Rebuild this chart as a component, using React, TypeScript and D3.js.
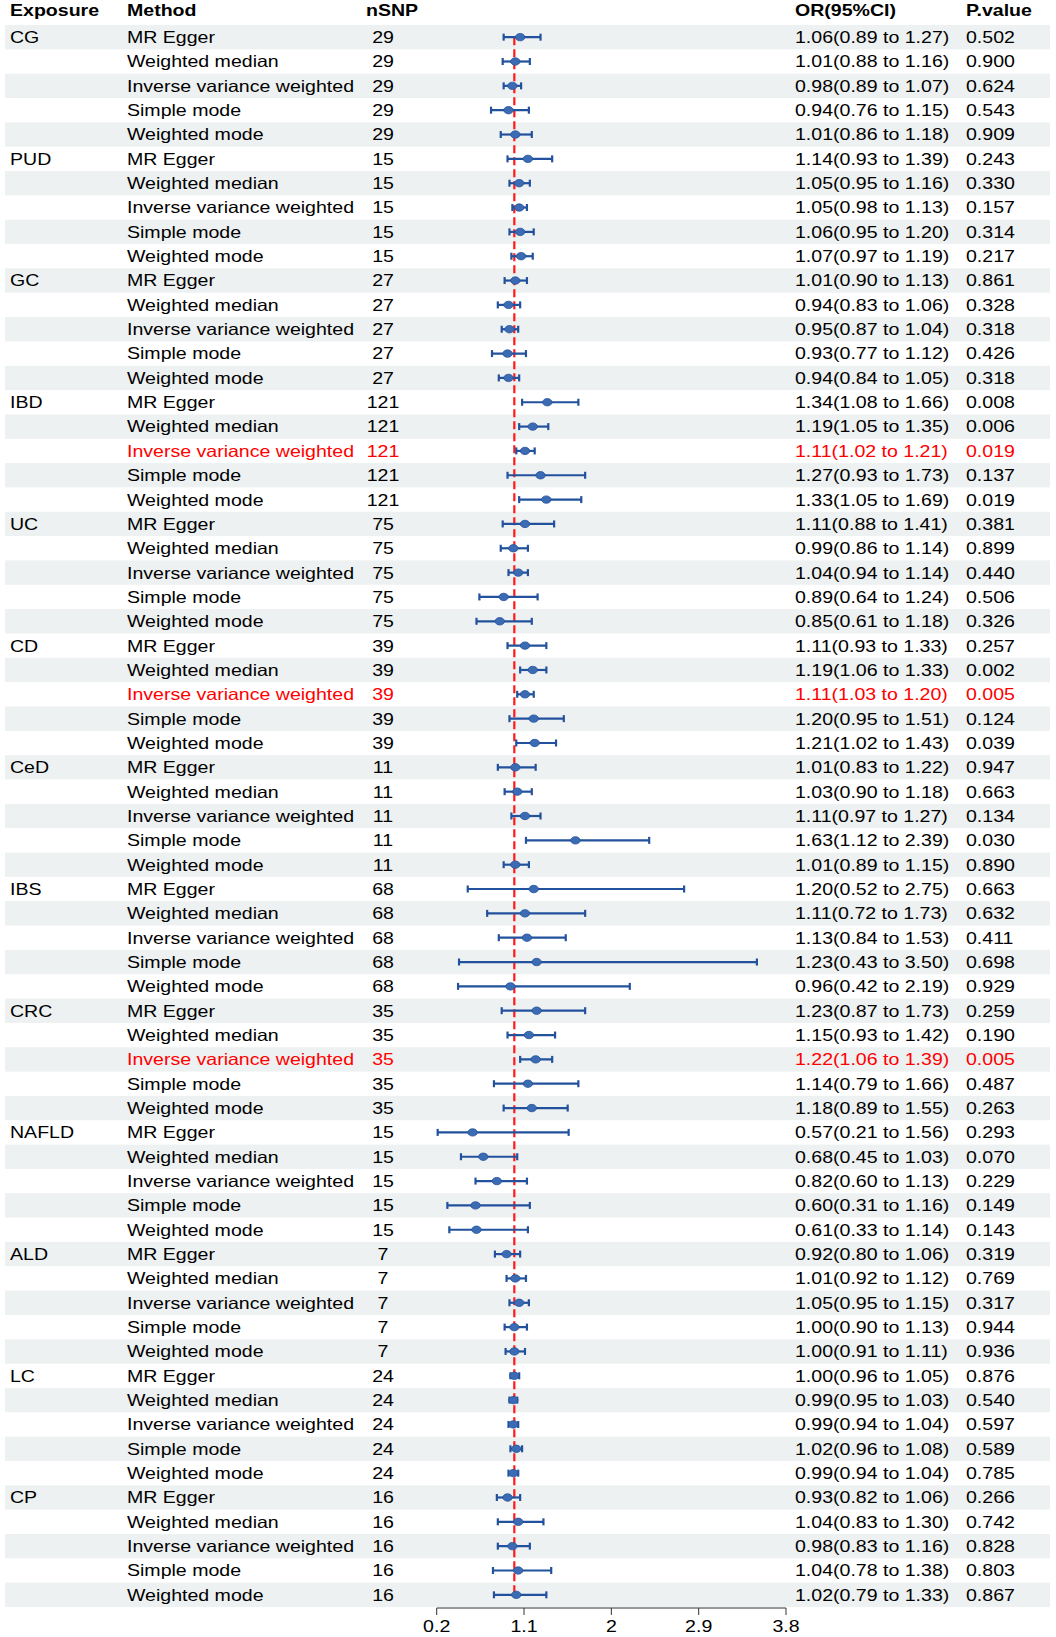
import React from "react";
import * as d3 from "d3";

const exposures = ["CG", "PUD", "GC", "IBD", "UC", "CD", "CeD", "IBS", "CRC", "NAFLD", "ALD", "LC", "CP"];
const nSNP = [29, 15, 27, 121, 75, 39, 11, 68, 35, 15, 7, 24, 16];
const methods = ["MR Egger", "Weighted median", "Inverse variance weighted", "Simple mode", "Weighted mode"];

const orValues = [
  1.06, 1.01, 0.98, 0.94, 1.01,
  1.14, 1.05, 1.05, 1.06, 1.07,
  1.01, 0.94, 0.95, 0.93, 0.94,
  1.34, 1.19, 1.11, 1.27, 1.33,
  1.11, 0.99, 1.04, 0.89, 0.85,
  1.11, 1.19, 1.11, 1.20, 1.21,
  1.01, 1.03, 1.11, 1.63, 1.01,
  1.20, 1.11, 1.13, 1.23, 0.96,
  1.23, 1.15, 1.22, 1.14, 1.18,
  0.57, 0.68, 0.82, 0.60, 0.61,
  0.92, 1.01, 1.05, 1.00, 1.00,
  1.00, 0.99, 0.99, 1.02, 0.99,
  0.93, 1.04, 0.98, 1.04, 1.02,
];
const lowerCI = [
  0.89, 0.88, 0.89, 0.76, 0.86,
  0.93, 0.95, 0.98, 0.95, 0.97,
  0.90, 0.83, 0.87, 0.77, 0.84,
  1.08, 1.05, 1.02, 0.93, 1.05,
  0.88, 0.86, 0.94, 0.64, 0.61,
  0.93, 1.06, 1.03, 0.95, 1.02,
  0.83, 0.90, 0.97, 1.12, 0.89,
  0.52, 0.72, 0.84, 0.43, 0.42,
  0.87, 0.93, 1.06, 0.79, 0.89,
  0.21, 0.45, 0.60, 0.31, 0.33,
  0.80, 0.92, 0.95, 0.90, 0.91,
  0.96, 0.95, 0.94, 0.96, 0.94,
  0.82, 0.83, 0.83, 0.78, 0.79,
];
const upperCI = [
  1.27, 1.16, 1.07, 1.15, 1.18,
  1.39, 1.16, 1.13, 1.20, 1.19,
  1.13, 1.06, 1.04, 1.12, 1.05,
  1.66, 1.35, 1.21, 1.73, 1.69,
  1.41, 1.14, 1.14, 1.24, 1.18,
  1.33, 1.33, 1.20, 1.51, 1.43,
  1.22, 1.18, 1.27, 2.39, 1.15,
  2.75, 1.73, 1.53, 3.50, 2.19,
  1.73, 1.42, 1.39, 1.66, 1.55,
  1.56, 1.03, 1.13, 1.16, 1.14,
  1.06, 1.12, 1.15, 1.13, 1.11,
  1.05, 1.03, 1.04, 1.08, 1.04,
  1.06, 1.30, 1.16, 1.38, 1.33,
];
const pValues = [
  "0.502", "0.900", "0.624", "0.543", "0.909",
  "0.243", "0.330", "0.157", "0.314", "0.217",
  "0.861", "0.328", "0.318", "0.426", "0.318",
  "0.008", "0.006", "0.019", "0.137", "0.019",
  "0.381", "0.899", "0.440", "0.506", "0.326",
  "0.257", "0.002", "0.005", "0.124", "0.039",
  "0.947", "0.663", "0.134", "0.030", "0.890",
  "0.663", "0.632", "0.411", "0.698", "0.929",
  "0.259", "0.190", "0.005", "0.487", "0.263",
  "0.293", "0.070", "0.229", "0.149", "0.143",
  "0.319", "0.769", "0.317", "0.944", "0.936",
  "0.876", "0.540", "0.597", "0.589", "0.785",
  "0.266", "0.742", "0.828", "0.803", "0.867",
];
const highlightedRows = [17, 27, 42];
const tickValues = [0.2, 1.1, 2, 2.9, 3.8];

const W = 1056;
const H = 1637;
const FONT = "'Liberation Sans', Arial, sans-serif";
const SX = 1.185;

function T(props: {
  x: number; y: number; children: React.ReactNode; anchor?: string; bold?: boolean; color?: string; size?: number;
}) {
  const { x, y, children, anchor = "start", bold = false, color = "#000", size = 16.5 } = props;
  return (
    <text
      transform={`translate(${x},${y}) scale(${SX},1)`}
      textAnchor={anchor}
      fontFamily={FONT}
      fontSize={size}
      fontWeight={bold ? "bold" : "normal"}
      fill={color}
    >
      {children}
    </text>
  );
}

export default function App() {
  const rows = exposures.flatMap((e, ei) =>
    methods.map((m, mi) => {
      const i = ei * methods.length + mi;
      return {
        i,
        exposure: mi === 0 ? e : "",
        method: m,
        n: nSNP[ei],
        or: orValues[i],
        lo: lowerCI[i],
        hi: upperCI[i],
        p: pValues[i],
        red: highlightedRows.includes(i),
      };
    })
  );

  const y = d3.scaleBand<number>().domain(rows.map((r) => r.i)).range([25, 1607]).paddingInner(0).paddingOuter(0);
  const bw = y.bandwidth();
  const cy = (i: number) => (y(i) as number) + bw / 2;
  const x = d3.scaleLinear().domain([0.2, 3.8]).range([436.7, 786]);

  const axisY = 1608;
  const lineColor = "#22519d";
  const pointFill = "#3b6cb3";

  return (
    <svg width={W} height={H} style={{ position: "absolute", left: 0, top: 0, background: "#fff" }}>
      <rect x={0} y={0} width={W} height={H} fill="#fff" />
      {rows.map((r) =>
        r.i % 2 === 0 ? (
          <rect key={"b" + r.i} x={5} y={y(r.i) as number} width={1045} height={bw} fill="#eef1f1" />
        ) : null
      )}
      {/* header */}
      <T x={10} y={16} bold>Exposure</T>
      <T x={127} y={16} bold>Method</T>
      <T x={366} y={16} bold>nSNP</T>
      <T x={795} y={16} bold>OR(95%CI)</T>
      <T x={966} y={16} bold>P.value</T>

      {rows.map((r) => {
        const c = r.red ? "#ff0000" : "#000";
        const by = cy(r.i) + 5.9;
        return (
          <g key={"t" + r.i}>
            {r.exposure && <T x={10} y={by}>{r.exposure}</T>}
            <T x={127} y={by} color={c}>{r.method}</T>
            <T x={383} y={by} color={c} anchor="middle">{String(r.n)}</T>
            <T x={795} y={by} color={c}>{`${r.or.toFixed(2)}(${r.lo.toFixed(2)} to ${r.hi.toFixed(2)})`}</T>
            <T x={966} y={by} color={c}>{r.p}</T>
          </g>
        );
      })}

      {/* reference line */}
      <line
        x1={x(1)}
        x2={x(1)}
        y1={cy(0)}
        y2={cy(rows.length - 1)}
        stroke="#ff1a1a"
        strokeWidth={2.2}
        strokeDasharray="8,4"
      />

      {/* CIs */}
      {rows.map((r) => {
        const c = cy(r.i);
        return (
          <g key={"ci" + r.i}>
            <line x1={x(r.lo)} x2={x(r.hi)} y1={c} y2={c} stroke={lineColor} strokeWidth={2.2} />
            <line x1={x(r.lo)} x2={x(r.lo)} y1={c - 3.5} y2={c + 3.5} stroke={lineColor} strokeWidth={2.2} />
            <line x1={x(r.hi)} x2={x(r.hi)} y1={c - 3.5} y2={c + 3.5} stroke={lineColor} strokeWidth={2.2} />
            <ellipse cx={x(r.or)} cy={c} rx={4.7} ry={3.7} fill={pointFill} stroke={lineColor} strokeWidth={0.8} />
          </g>
        );
      })}

      {/* axis */}
      <line x1={x(0.2)} x2={x(3.8)} y1={axisY} y2={axisY} stroke="#333" strokeWidth={1} />
      {tickValues.map((t) => (
        <g key={"tk" + t}>
          <line x1={x(t)} x2={x(t)} y1={axisY} y2={axisY + 7} stroke="#333" strokeWidth={1} />
          <T x={x(t)} y={1632} anchor="middle">{String(t)}</T>
        </g>
      ))}
    </svg>
  );
}
